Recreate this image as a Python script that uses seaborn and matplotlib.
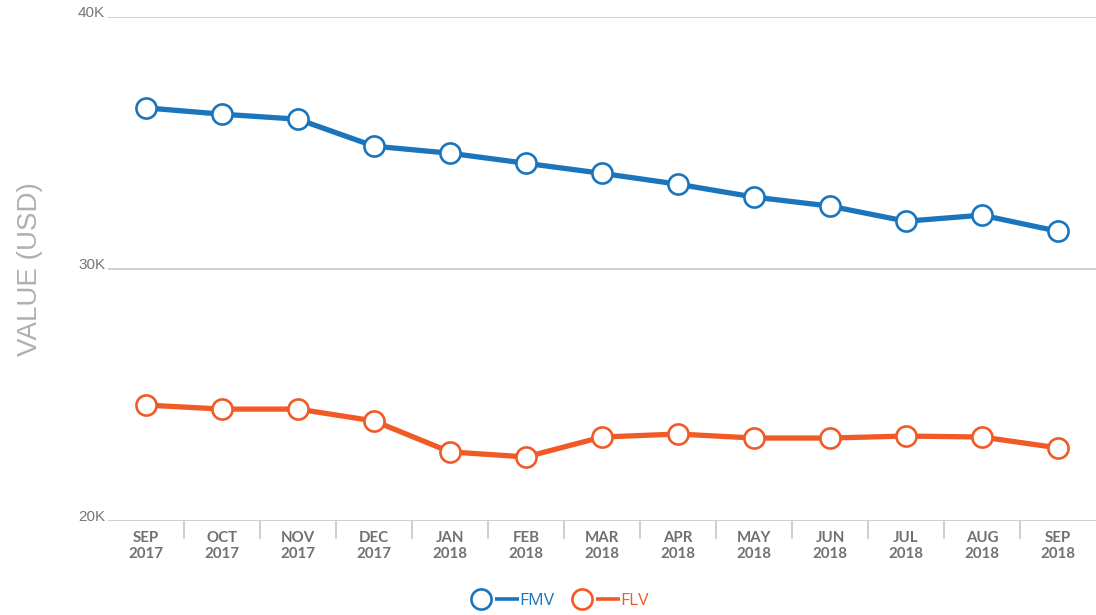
import numpy as np
import pandas as pd
import matplotlib
matplotlib.use("Agg")
import matplotlib.pyplot as plt
import seaborn as sns
from matplotlib.lines import Line2D
from matplotlib.legend_handler import HandlerLine2D

months = ["SEP\n2017", "OCT\n2017", "NOV\n2017", "DEC\n2017", "JAN\n2018", "FEB\n2018",
          "MAR\n2018", "APR\n2018", "MAY\n2018", "JUN\n2018", "JUL\n2018", "AUG\n2018", "SEP\n2018"]
fmv = [36400, 36150, 35950, 34880, 34600, 34200, 33800, 33370, 32860, 32500, 31900, 32140, 31500]
flv = [24600, 24440, 24440, 23970, 22740, 22540, 23330, 23450, 23290, 23290, 23370, 23330, 22900]
series_names = ["FMV", "FLV"]
colors = {"FMV": "#1a75bc", "FLV": "#f15a24"}
y_ticks = [20000, 30000, 40000]
y_tick_labels = ["20K", "30K", "40K"]

sns.set_theme(style="white")
plt.rcParams["font.family"] = ["Liberation Sans", "DejaVu Sans"]

fig = plt.figure(figsize=(10.96, 6.15), dpi=100)
ax = fig.add_axes([0.0985, 0.153, 0.9015, 0.819])

df = pd.DataFrame({
    "idx": list(range(len(months))) * 2,
    "value": fmv + flv,
    "series": ["FMV"] * len(months) + ["FLV"] * len(months),
})

for name in series_names:
    sub = df[df["series"] == name]
    sns.lineplot(data=sub, x="idx", y="value", ax=ax, color=colors[name],
                 linewidth=3.8, marker="o", markersize=14.5,
                 markerfacecolor="white", markeredgecolor=colors[name],
                 markeredgewidth=1.9, legend=False)

ax.set_xlim(-0.5, len(months) - 0.5)
ax.set_ylim(20000, 40000)
ax.set_xlabel("")
ax.set_ylabel("VALUE (USD)", fontsize=20, color="#b0b0b0", labelpad=25)

for yv in y_ticks:
    ax.axhline(yv, color="#cccccc", linewidth=1.3, zorder=0)

for s in ax.spines.values():
    s.set_visible(False)

ax.set_xticks(range(len(months)))
ax.set_xticklabels(months, fontsize=10.8, color="#707070", fontweight="bold",
                   family=["Lato", "DejaVu Sans"], linespacing=1.25)
ax.set_xticks(np.arange(0.5, len(months) - 1, 1.0), minor=True)
ax.tick_params(axis="x", which="major", length=0, pad=7)
ax.tick_params(axis="x", which="minor", length=13, width=1.3, color="#cccccc",
               direction="out", bottom=True)

ax.set_yticks(y_ticks)
ax.set_yticklabels(y_tick_labels, fontsize=11, color="#777777", va="baseline")
ax.tick_params(axis="y", length=0, pad=2)


class LeftMarkerHandler(HandlerLine2D):
    def create_artists(self, legend, orig_handle, xdescent, ydescent, width, height,
                       fontsize, trans):
        y = height / 2 - ydescent
        c = orig_handle.get_color()
        r = 10
        line = Line2D([-xdescent + 2 * r, width - xdescent], [y, y], color=c, lw=2.6,
                      solid_capstyle="butt")
        mk = Line2D([-xdescent + r], [y], marker="o", markersize=14.5,
                    markerfacecolor="white", markeredgecolor=c, markeredgewidth=1.9,
                    linestyle="none")
        line.set_transform(trans)
        mk.set_transform(trans)
        return [line, mk]


handles = [Line2D([], [], color=colors[n]) for n in series_names]
leg = fig.legend(handles, series_names, loc="center", bbox_to_anchor=(0.509, 0.023),
                 ncol=2, frameon=False, handlelength=3.0, handletextpad=0.0,
                 columnspacing=0.8,
                 handler_map={Line2D: LeftMarkerHandler()},
                 prop={"family": ["Open Sans", "DejaVu Sans"], "size": 12.5})
for t, n in zip(leg.get_texts(), series_names):
    t.set_color(colors[n])

fig.savefig("out.png", dpi=100)
